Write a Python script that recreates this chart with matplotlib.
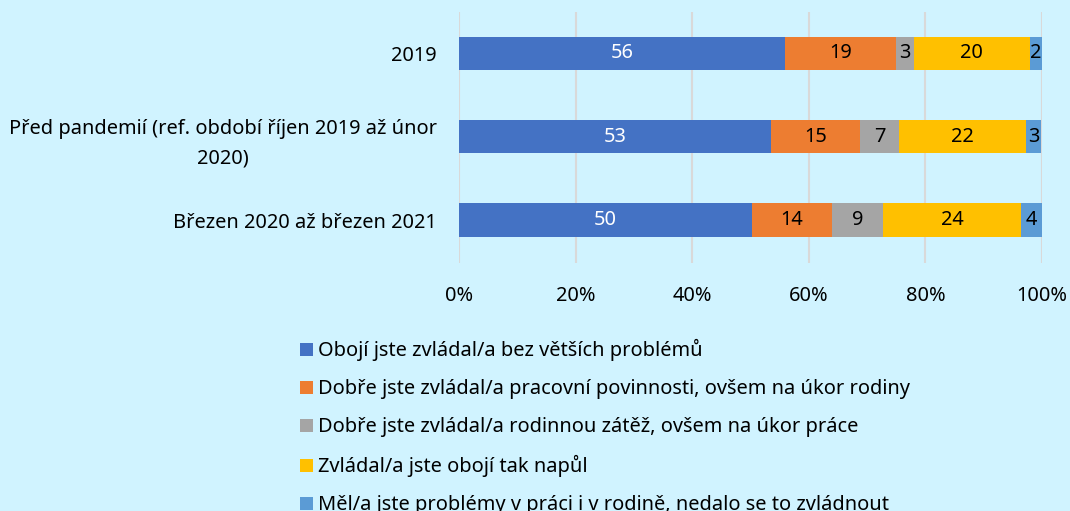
import matplotlib.pyplot as plt
from matplotlib.patches import Patch
from matplotlib.ticker import PercentFormatter
from matplotlib.transforms import ScaledTranslation

plt.rcParams['font.family'] = ['Noto Sans', 'DejaVu Sans']

categories = [
    '2019',
    'Před pandemií (ref. období říjen 2019 až únor\n2020)',
    'Březen 2020 až březen 2021',
]
series = [
    'Obojí jste zvládal/a bez větších problémů',
    'Dobře jste zvládal/a pracovní povinnosti, ovšem na úkor rodiny',
    'Dobře jste zvládal/a rodinnou zátěž, ovšem na úkor práce',
    'Zvládal/a jste obojí tak napůl',
    'Měl/a jste problémy v práci i v rodině, nedalo se to zvládnout',
]
# shares (%) as drawn, labels show them rounded
values = [
    [55.9, 53.4, 50.2],
    [19.1, 15.4, 13.8],
    [3.0, 6.6, 8.7],
    [19.9, 21.9, 23.7],
    [2.1, 2.6, 3.6],
]
colors = ['#4472C4', '#ED7D31', '#A5A5A5', '#FFC000', '#5B9BD5']
label_colors = ['white', 'black', 'black', 'black', 'black']
bg = '#d0f3ff'
fs = 14.4

fig = plt.figure(figsize=(10.7, 5.11), dpi=100, facecolor=bg)
ax = fig.add_axes([0.4294, 0.4853, 0.5444, 0.4912], facecolor=bg)

y = range(len(categories))
left = [0.0] * len(categories)
for vals, name, c, tc in zip(values, series, colors, label_colors):
    bars = ax.barh(y, vals, left=left, height=0.4, color=c, label=name, zorder=3)
    for b, v in zip(bars, vals):
        ax.text(b.get_x() + b.get_width() / 2, b.get_y() + b.get_height() / 2, f'{v:.0f}',
                ha='center', va='center', color=tc, fontsize=fs, zorder=4)
    left = [l + v for l, v in zip(left, vals)]

ax.set_xlim(0, 100)
ax.set_ylim(2.516, -0.497)
ax.set_yticks(list(y))
ax.set_yticklabels(categories, fontsize=fs)
for lab in ax.get_yticklabels():
    lab.set_multialignment('center')
    lab.set_linespacing(1.6)
    if '\n' in lab.get_text():
        # nudge the two-line label up a little
        lab.set_transform(lab.get_transform() + ScaledTranslation(0, 4 / 100, fig.dpi_scale_trans))
ax.xaxis.set_major_formatter(PercentFormatter(100, decimals=0))
ax.set_xticks([0, 20, 40, 60, 80, 100])
ax.tick_params(axis='x', labelsize=fs, length=0, pad=16.5)
ax.tick_params(axis='y', length=0, pad=16.5)
ax.grid(axis='x', color='#d9d9d9', linewidth=1.5, zorder=0)
for s in ax.spines.values():
    s.set_visible(False)

handles = [Patch(facecolor=c, edgecolor='none') for c in colors]
fig.legend(handles, series, loc='upper left', bbox_to_anchor=(0.2804, 0.3365),
           frameon=False, fontsize=fs, handlelength=0.63, handleheight=0.63,
           handletextpad=0.28, labelspacing=0.9, borderaxespad=0, borderpad=0)

fig.savefig('out.png', dpi=100, facecolor=bg)
